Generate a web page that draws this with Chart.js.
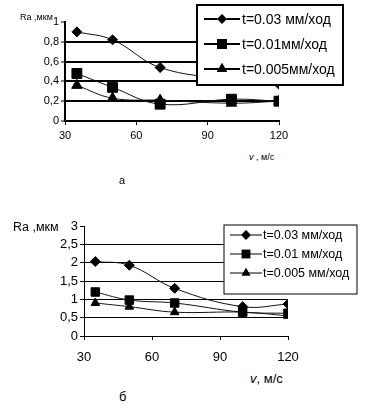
<!DOCTYPE html>
<html lang="ru">
<head>
    <meta charset="UTF-8">
    <title>Ra vs v</title>
    <style>
        body { margin: 0; background: #fff; font-family: "Liberation Sans", Arial, sans-serif; }
        #wrap { position: relative; width: 371px; height: 414px; overflow: hidden; }
        canvas { position: absolute; left: 0; }
        .lbl { position: absolute; color: #000; white-space: nowrap; line-height: 1; }
    </style>
    <script src="https://cdn.jsdelivr.net/npm/chart.js"></script>
</head>
<body>
<div id="wrap">
    <canvas id="chartA" width="371" height="150" style="top:0"></canvas>
    <canvas id="chartB" width="371" height="165" style="top:200px"></canvas>
    <div class="lbl" style="left:20px; top:13px; font-size:9px;">Ra ,мкм</div>
    <div class="lbl" style="left:249px; top:153px; font-size:9px;"><i>v</i> , м/с</div>
    <div class="lbl" style="left:119px; top:175px; font-size:11px;">а</div>
    <div class="lbl" style="left:13px; top:221px; font-size:12.5px;">Ra ,мкм</div>
    <div class="lbl" style="left:250px; top:372px; font-size:13px;"><i>v</i>, м/с</div>
    <div class="lbl" style="left:119px; top:390px; font-size:13px;">б</div>
</div>

<script>
    // speeds, m/s
    const speeds = [35, 50, 70, 100, 120];
    const seriesNamesA = ['t=0.03 мм/ход', 't=0.01мм/ход', 't=0.005мм/ход'];
    const seriesNamesB = ['t=0.03 мм/ход', 't=0.01 мм/ход', 't=0.005 мм/ход'];

    // chart "а"
    const raA1 = [0.90, 0.82, 0.54, 0.42, 0.37];
    const raA2 = [0.48, 0.34, 0.17, 0.22, 0.20];
    const raA3 = [0.36, 0.23, 0.21, 0.18, 0.20];

    // chart "б"
    const raB1 = [2.03, 1.93, 1.30, 0.80, 0.87];
    const raB2 = [1.20, 0.98, 0.90, 0.65, 0.62];
    const raB3 = [0.90, 0.80, 0.65, 0.65, 0.55];

    const xTicks = [30, 60, 90, 120];
    const yTicksA = [0, 0.2, 0.4, 0.6, 0.8, 1];
    const yTicksB = [0, 0.5, 1, 1.5, 2, 2.5, 3];
    const markers = ['rectRot', 'rect', 'triangle'];

    function pts(vals) {
        return speeds.map((s, i) => ({ x: s, y: vals[i] }));
    }

    // legend drawn as a box over the plot
    const boxLegend = {
        id: 'boxLegend',
        afterDraw(chart, args, o) {
            const ctx = chart.ctx;
            ctx.save();
            ctx.fillStyle = '#fff';
            ctx.fillRect(o.x, o.y, o.w, o.h);
            ctx.lineWidth = o.border;
            ctx.strokeStyle = '#000';
            ctx.strokeRect(o.x, o.y, o.w, o.h);
            chart.data.datasets.forEach((ds, i) => {
                const cy = o.y + o.rowTop + i * o.rowGap;
                ctx.lineWidth = o.lineW;
                ctx.beginPath();
                ctx.moveTo(o.lineX1, cy);
                ctx.lineTo(o.lineX2, cy);
                ctx.stroke();
                Chart.helpers.drawPoint(ctx, {
                    pointStyle: ds.pointStyle,
                    radius: ds.pointRadius,
                    rotation: 0
                }, (o.lineX1 + o.lineX2) / 2, cy);
                ctx.fillStyle = '#000';
                ctx.fill();
                ctx.font = o.font;
                ctx.textBaseline = 'middle';
                ctx.fillText(ds.label, o.textX, cy + 1);
            });
            ctx.restore();
        }
    };

    function makeChart(id, names, sets, radii, cfg) {
        const datasets = sets.map((vals, i) => ({
            label: names[i],
            data: pts(vals),
            borderColor: '#111',
            borderWidth: 1,
            backgroundColor: '#000',
            pointStyle: markers[i],
            pointRadius: radii[i],
            pointBorderColor: '#000',
            pointBackgroundColor: '#000',
            tension: 0.4
        }));
        return new Chart(document.getElementById(id), {
            type: 'line',
            data: { datasets },
            plugins: [boxLegend],
            options: {
                responsive: false,
                animation: false,
                layout: { padding: { left: 0, right: 371 - cfg.right, top: cfg.top, bottom: 0 } },
                plugins: {
                    legend: { display: false },
                    tooltip: { enabled: false },
                    boxLegend: cfg.legend
                },
                scales: {
                    x: {
                        type: 'linear',
                        min: 30, max: 120,
                        afterBuildTicks: s => { s.ticks = xTicks.map(v => ({ value: v })); },
                        afterFit: s => { s.height = cfg.h - cfg.top - cfg.plotH; },
                        border: { color: '#000', width: cfg.axisW },
                        grid: { drawOnChartArea: false, tickLength: 4, color: '#000', tickWidth: 1 },
                        ticks: { color: '#000', autoSkip: false, font: { family: 'Liberation Sans', size: cfg.fs }, padding: cfg.xPad, maxRotation: 0 }
                    },
                    y: {
                        min: 0, max: cfg.yMax,
                        afterBuildTicks: s => { s.ticks = cfg.yTicks.map(v => ({ value: v })); },
                        ticks: {
                            autoSkip: false,
                            color: '#000',
                            padding: 2,
                            font: { family: 'Liberation Sans', size: cfg.fs },
                            callback: v => String(v).replace('.', ',')
                        },
                        afterFit: s => { s.width = cfg.left; },
                        border: { color: '#000', width: cfg.axisW },
                        grid: {
                            tickLength: 4,
                            lineWidth: cfg.gridW,
                            color: c => (c.tick && (c.tick.value === cfg.yMax || c.tick.value === 0)) ? 'rgba(0,0,0,0)' : '#000',
                            tickColor: '#000',
                            tickWidth: 1
                        }
                    }
                }
            }
        });
    }

    makeChart('chartA', seriesNamesA, [raA1, raA2, raA3], [5, 7, 6], {
        h: 150, top: 22, plotH: 99, left: 65, right: 279, yMax: 1, yTicks: yTicksA,
        fs: 11, xPad: 4, axisW: 2, gridW: 2,
        legend: {
            x: 197, y: 5, w: 146, h: 80, border: 2, lineW: 2,
            rowTop: 14, rowGap: 25, lineX1: 204, lineX2: 240, textX: 242,
            font: '14px "Liberation Sans", Arial, sans-serif'
        }
    });

    makeChart('chartB', seriesNamesB, [raB1, raB2, raB3], [5, 6, 5], {
        h: 165, top: 26, plotH: 110, left: 84, right: 288, yMax: 3, yTicks: yTicksB,
        fs: 13, xPad: 10, axisW: 1, gridW: 1,
        legend: {
            x: 224, y: 25, w: 133, h: 69, border: 1, lineW: 1,
            rowTop: 10, rowGap: 19, lineX1: 230, lineX2: 262, textX: 263,
            font: '12.5px "Liberation Sans", Arial, sans-serif'
        }
    });
</script>
</body>
</html>
